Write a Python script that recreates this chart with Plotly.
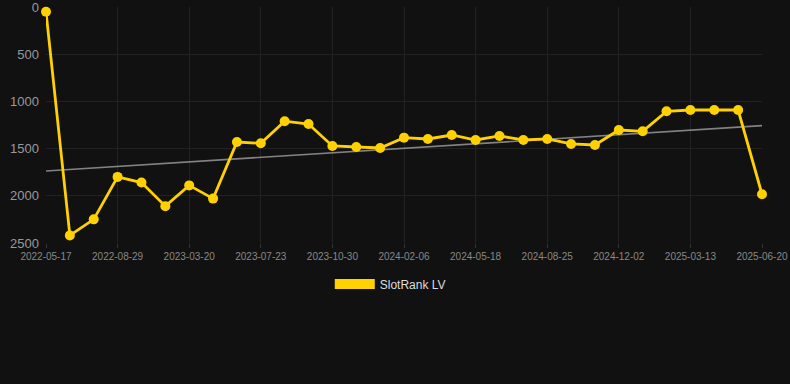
import plotly.graph_objects as go

dates = [
    "2022-05-17", "2022-06-21", "2022-07-26", "2022-08-29", "2022-11-05", "2023-01-12",
    "2023-03-20", "2023-04-30", "2023-06-11", "2023-07-23", "2023-08-25", "2023-09-27",
    "2023-10-30", "2023-12-02", "2024-01-04", "2024-02-06", "2024-03-10", "2024-04-14",
    "2024-05-18", "2024-06-20", "2024-07-23", "2024-08-25", "2024-09-27", "2024-10-30",
    "2024-12-02", "2025-01-04", "2025-02-08", "2025-03-13", "2025-04-15", "2025-05-18",
    "2025-06-20",
]
rank = [
    50, 2420, 2250, 1800, 1860, 2110, 1890, 2030, 1430, 1444,
    1210, 1240, 1472, 1483, 1494, 1384, 1398, 1356, 1409, 1366,
    1409, 1398, 1451, 1462, 1303, 1317, 1105, 1091, 1091, 1091,
    1984,
]
trend_start = 1737
trend_end = 1257
series_name = "SlotRank LV"
y_ticks = [0, 500, 1000, 1500, 2000, 2500]

gold = "#FFD100"
font_family = "Liberation Sans, Arial, sans-serif"

fig = go.Figure()
fig.add_trace(go.Scatter(
    x=[dates[0], dates[-1]], y=[trend_start, trend_end],
    mode="lines", line=dict(color="rgba(150,150,150,0.85)", width=1.6),
    showlegend=False, hoverinfo="skip",
))
fig.add_trace(go.Scatter(
    x=dates, y=rank, mode="lines+markers",
    line=dict(color=gold, width=2.8),
    marker=dict(color=gold, size=10),
    cliponaxis=False,
    showlegend=False,
))
fig.add_trace(go.Scatter(
    x=[dates[0]], y=[None], mode="lines",
    line=dict(color=gold, width=12),
    name=series_name, showlegend=True,
))

fig.update_layout(
    width=790, height=384,
    paper_bgcolor="#111111", plot_bgcolor="#111111",
    margin=dict(l=46, r=28, t=7, b=141, autoexpand=False),
    font=dict(family=font_family, color="#999999"),
    legend=dict(
        orientation="h", x=0.494, xanchor="center", xref="container",
        y=-0.174, yanchor="middle", itemwidth=40,
        font=dict(size=12, color="#dddddd", family=font_family),
        bgcolor="rgba(0,0,0,0)",
    ),
    xaxis=dict(
        type="category", categoryorder="array", categoryarray=dates,
        range=[0, len(dates) - 1], autorange=False,
        tickmode="array", tickvals=dates[::3], ticktext=dates[::3],
        tickangle=0, automargin=False, ticklabeloverflow="allow",
        showgrid=True, gridcolor="#222222", gridwidth=1,
        zeroline=False, showline=False,
        ticks="outside", ticklen=4, tickcolor="#333333",
        tickfont=dict(size=10, color="#888888"),
    ),
    yaxis=dict(
        range=[2500.5, -0.5], autorange=False, automargin=False,
        tickmode="array", tickvals=y_ticks, ticklabeloverflow="allow",
        showgrid=True, gridcolor="#222222", gridwidth=1,
        zeroline=False, showline=False,
        tickfont=dict(size=13, color="#999999"),
        ticklabelstandoff=6,
    ),
)

fig.write_html(
    "out.html",
    config={"displayModeBar": False},
    post_script="document.body.style.margin='0';document.body.style.background='#111111';",
)
